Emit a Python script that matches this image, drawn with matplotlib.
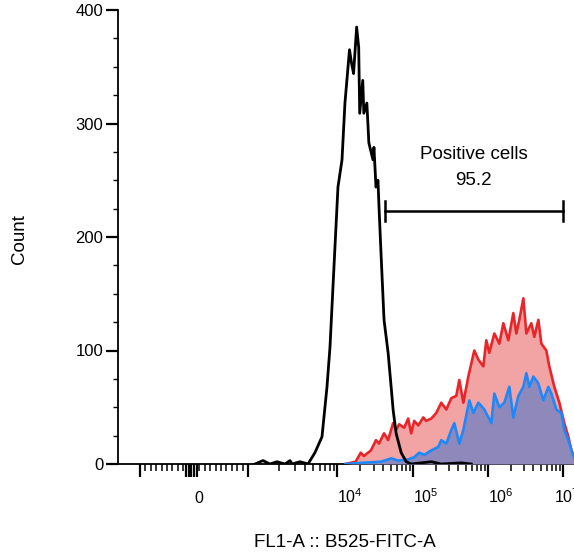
import numpy as np
import matplotlib
matplotlib.use("Agg")
import matplotlib.pyplot as plt
import matplotlib.transforms as mtransforms
from matplotlib.ticker import FixedLocator, FixedFormatter

plt.rcParams['font.family'] = ['Liberation Sans', 'DejaVu Sans']
plt.rcParams['mathtext.default'] = 'regular'

# histogram data, x as log10(fluorescence), y as count
black_log = [3.06, 3.135, 3.204, 3.277, 3.365, 3.422, 3.445, 3.538, 3.635, 3.72,
             3.808, 3.871, 3.909, 3.947, 4.011, 4.063, 4.101, 4.16, 4.187, 4.213,
             4.253, 4.28, 4.293, 4.333, 4.347, 4.387, 4.413, 4.467, 4.48, 4.507,
             4.533, 4.547, 4.573, 4.613, 4.667, 4.707, 4.733, 4.773, 4.84, 4.907,
             4.973, 5.24, 5.373, 5.64, 5.773]
black_count = [0, 3, 0, 2, 0, 3, 0, 2, 0, 10,
               24, 68, 103, 156, 244, 268, 318, 365, 353, 344,
               385, 367, 309, 338, 309, 318, 283, 268, 279, 244,
               250, 226, 186, 127, 98, 68, 48, 27, 10, 2,
               0, 2, 0, 1, 0]

red_log = [4.107, 4.24, 4.307, 4.347, 4.44, 4.507, 4.547, 4.613, 4.667, 4.733,
           4.773, 4.813, 4.88, 4.933, 4.973, 5.013, 5.067, 5.133, 5.173, 5.24,
           5.307, 5.373, 5.44, 5.507, 5.573, 5.613, 5.667, 5.733, 5.813, 5.867,
           5.933, 5.973, 6.013, 6.08, 6.147, 6.20, 6.267, 6.333, 6.373, 6.413,
           6.467, 6.507, 6.573, 6.613, 6.667, 6.707, 6.773, 6.813, 6.88, 6.947,
           7.013, 7.067, 7.107, 7.16]
red_count = [0, 2, 10, 7, 12, 21, 18, 27, 21, 36,
             30, 35, 32, 40, 27, 38, 34, 41, 38, 40,
             45, 54, 48, 58, 60, 74, 54, 77, 100, 92,
             86, 109, 98, 115, 106, 124, 109, 133, 115, 127,
             146, 115, 124, 112, 127, 106, 100, 86, 68, 54,
             36, 24, 12, 3]

blue_log = [4.107, 4.307, 4.573, 4.707, 4.80, 4.933, 5.013, 5.08, 5.147, 5.24,
            5.333, 5.373, 5.44, 5.507, 5.547, 5.613, 5.667, 5.747, 5.80, 5.867,
            5.947, 6.04, 6.08, 6.147, 6.213, 6.28, 6.333, 6.40, 6.467, 6.507,
            6.547, 6.60, 6.667, 6.733, 6.80, 6.84, 6.907, 6.973, 7.013, 7.067,
            7.12, 7.16]
blue_count = [0, 1, 2, 5, 3, 4, 6, 10, 8, 12,
              15, 21, 18, 30, 36, 18, 30, 56, 45, 54,
              48, 36, 62, 50, 54, 68, 41, 60, 68, 80,
              68, 77, 71, 56, 68, 62, 48, 45, 30, 21,
              10, 3]

gate_range = [4.2e4, 9.9e6]
gate_count = 223
gate_name = "Positive cells"
gate_value = "95.2"

major_ticks = [-1000, -150, -100, -50, 0, 50, 1000, 1e4, 1e5, 1e6, 1e7]
major_labels = ['', '', '', '', '0', '', '', '$10^4$', '$10^5$', '$10^6$', '$10^7$']


# biexponential-like display: linear near 0, log above
LIN_T = 1000.0
SHIFT = 375.0
OFFS = 2.075
SLOPE = (np.log10(LIN_T - SHIFT) - OFFS) / LIN_T


def biex(x):
    x = np.asarray(x, dtype=float)
    a = np.abs(x)
    with np.errstate(all='ignore'):
        logpart = np.sign(x) * (np.log10(np.maximum(a - SHIFT, 1e-9)) - OFFS)
    return np.where(a <= LIN_T, x * SLOPE, logpart)


def biex_inv(d):
    d = np.asarray(d, dtype=float)
    a = np.abs(d)
    with np.errstate(all='ignore'):
        logpart = np.sign(d) * (10 ** np.minimum(a + OFFS, 300) + SHIFT)
    return np.where(a <= LIN_T * SLOPE, d / SLOPE, logpart)


fig = plt.figure(figsize=(5.74, 5.54), dpi=100)
ax = fig.add_axes([118 / 574, 90 / 554, 456 / 574, 454 / 554])
ax.set_xscale('function', functions=(biex, biex_inv))

red_x = 10 ** np.array(red_log)
blue_x = 10 ** np.array(blue_log)
black_x = 10 ** np.array(black_log)

ax.fill_between(red_x, red_count, color='#f2a3a3', lw=0, zorder=1)
ax.plot(red_x, red_count, color='#e8262a', lw=1.9, zorder=2)
ax.fill_between(blue_x, blue_count, color='#8f88ba', lw=0, zorder=3)
ax.plot(blue_x, blue_count, color='#1e88fa', lw=1.9, zorder=4)
ax.plot(black_x, black_count, color='black', lw=2.0, zorder=5)

# gate bar
ax.plot(gate_range, [gate_count, gate_count], color='black', lw=1.8)
for gx in gate_range:
    ax.plot([gx, gx], [gate_count - 8.5, gate_count + 8.5], color='black', lw=1.8)
mid = biex_inv((biex(gate_range[0]) + biex(gate_range[1])) / 2)
ax.text(mid, gate_count + 50, gate_name, ha='center', va='center', fontsize=13.5)
ax.text(mid, gate_count + 27, gate_value, ha='center', va='center', fontsize=13.5)

ax.set_xlim(-1600, 1.387e7)
ax.set_ylim(0, 400)

minor = list(np.arange(-900, 1000, 100)) + [k * 10 ** n for n in range(3, 7) for k in range(2, 10)]
ax.xaxis.set_major_locator(FixedLocator(major_ticks))
ax.xaxis.set_major_formatter(FixedFormatter(major_labels))
ax.xaxis.set_minor_locator(FixedLocator(minor))
ax.set_yticks([0, 100, 200, 300, 400])
ax.set_yticks(np.arange(0, 401, 25), minor=True)

ax.tick_params(axis='x', which='major', direction='out', length=9.4, width=1.6, pad=19, labelsize=11.5)
ax.tick_params(axis='x', which='minor', direction='out', length=5, width=1.1)
ax.tick_params(axis='y', which='major', direction='out', length=8.6, width=1.6, pad=2, labelsize=12)
ax.tick_params(axis='y', which='minor', direction='out', length=3.6, width=1)
ticks = ax.xaxis.get_major_ticks()
for t in ticks:
    t.label1.set_ha('left')
    t.label1.set_va('baseline')
# last label sits a bit left of its tick, as in the original
shift = mtransforms.ScaledTranslation(-9 / 100, 0, fig.dpi_scale_trans)
ticks[-1].label1.set_transform(ticks[-1].label1.get_transform() + shift)

for side in ['top', 'right']:
    ax.spines[side].set_visible(False)
for side in ['left', 'bottom']:
    ax.spines[side].set_linewidth(1.3)

ax.set_xlabel('FL1-A :: B525-FITC-A', fontsize=13.5, va='center')
ax.xaxis.set_label_coords(0.498, -0.174)
ax.set_ylabel('Count', fontsize=13.5, va='center')
ax.yaxis.set_label_coords(-0.216, 0.4956)

fig.savefig('out.png', dpi=100)
